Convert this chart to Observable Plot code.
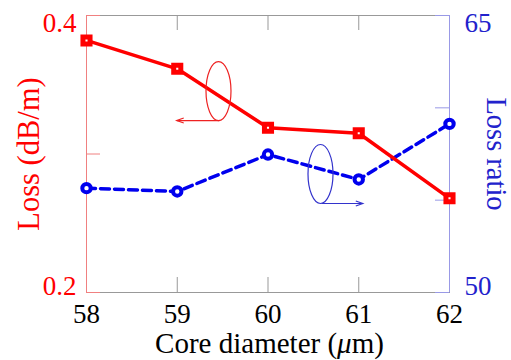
<!DOCTYPE html>
<html><head><meta charset="utf-8">
<script src="https://cdn.jsdelivr.net/npm/d3@7"></script>
<script src="https://cdn.jsdelivr.net/npm/@observablehq/plot@0.6"></script>
<style>body{margin:0;background:#fff} #chart svg{display:block}</style>
</head><body><div id="chart"></div>
<script>
// ---- data ----
const coreDiameter = [58, 59, 60, 61, 62];
const lossDbPerM = [0.382, 0.3615, 0.319, 0.315, 0.268];
const lossRatio = [55.65, 55.47, 57.47, 56.12, 59.13];
const xTicks = [58, 59, 60, 61, 62];
const xTickLabels = ["58", "59", "60", "61", "62"];
const lossTicks = [0.2, 0.3, 0.4];
const lossTickLabels = ["0.2", "", "0.4"];
const ratioTicks = [50, 55, 60, 65];
const ratioTickLabels = ["50", "", "", "65"];
const lossDomain = [0.2, 0.4];
const ratioDomain = [50, 65];
const xTitleParts = ["Core diameter (", "\u03bc", "m)"];
const lossTitle = "Loss (dB/m)";
const ratioTitle = "Loss ratio";
// annotation anchors (data units): ellipse centre and arrow end
const lossMarker = {x: 59.46, y: 0.3451, toX: 59.0};
const ratioMarker = {x: 60.584, y: 56.39, toX: 61.05};

// ---- derived ----
const toLoss = d3.scaleLinear(ratioDomain, lossDomain);
const lossData = coreDiameter.map((x, i) => ({x, y: lossDbPerM[i]}));
const ratioData = coreDiameter.map((x, i) => ({x, y: toLoss(lossRatio[i])}));
const lossLabelData = lossTicks.map((v, i) => ({v, t: lossTickLabels[i]})).filter(d => d.t);
const ratioLabelData = ratioTicks.map((v, i) => ({v: toLoss(v), t: ratioTickLabels[i]})).filter(d => d.t);

const RED = "#ff0000", BLUE = "#0000ee", BLUE_TXT = "#2222cc";
const W = 511, H = 360, ML = 86, MR = 62, MT = 15, MB = 68;
const plotW = W - ML - MR, plotH = H - MT - MB;

function ellipseArrow(a, color, yMap) {
  return (index, scales) => {
    const cx = scales.x(a.x), cy = scales.y(yMap(a.y)), ex = scales.x(a.toX);
    const rx = 12.5, ry = 29.5;
    const g = d3.create("svg:g").attr("fill", "none").attr("stroke", color).attr("stroke-width", 1.2);
    g.append("ellipse").attr("cx", cx).attr("cy", cy).attr("rx", rx).attr("ry", ry);
    const by = cy + ry;
    g.append("line").attr("x1", cx + 1).attr("y1", by).attr("x2", ex).attr("y2", by);
    const dir = Math.sign(ex - cx);
    g.append("path").attr("d", `M${ex - dir * 7},${by - 2.5}L${ex},${by}L${ex - dir * 7},${by + 2.5}`);
    return g.node();
  };
}

function xTitle(index, scales, values, dims) {
  const cx = (dims.marginLeft + dims.width - dims.marginRight) / 2 + 2;
  const y = dims.height - dims.marginBottom + 61;
  const t = d3.create("svg:text").attr("x", cx).attr("y", y).attr("text-anchor", "middle")
    .attr("font-size", 29).attr("fill", "#000").attr("font-family", "Liberation Serif");
  t.append("tspan").text(xTitleParts[0]);
  t.append("tspan").attr("font-style", "italic").text(xTitleParts[1]);
  t.append("tspan").text(xTitleParts[2]);
  return t.node();
}

const isTop = d => d.v > 0.3;
const chart = Plot.plot({
  width: W, height: H,
  marginLeft: ML, marginRight: MR, marginTop: MT, marginBottom: MB,
  x: {domain: [58, 62], axis: null},
  y: {domain: lossDomain, axis: null},
  style: {fontFamily: "Liberation Serif", background: "white", overflow: "visible"},
  marks: [
    Plot.frame({stroke: "#999", strokeWidth: 1}),
    Plot.ruleX([58], {stroke: "#f08080", strokeWidth: 1}),
    Plot.ruleX([62], {stroke: "#9999e6", strokeWidth: 1}),
    // x ticks (inward, bottom and top)
    Plot.ruleX(xTicks.slice(1, -1), {stroke: "#999", insetTop: plotH - 15}),
    Plot.ruleX(xTicks.slice(1, -1), {stroke: "#999", insetBottom: plotH - 15}),
    // left ticks (red)
    Plot.ruleY(lossTicks, {stroke: "#f08080", insetRight: plotW - 14}),
    // right ticks (blue)
    Plot.ruleY(ratioTicks.map(toLoss), {stroke: "#9999e6", insetLeft: plotW - 14}),
    // series
    Plot.line(ratioData, {x: "x", y: "y", stroke: BLUE, strokeWidth: 3.5, strokeDasharray: "9,5"}),
    Plot.line(lossData, {x: "x", y: "y", stroke: RED, strokeWidth: 3.5}),
    Plot.dot(ratioData, {x: "x", y: "y", r: 4.2, stroke: BLUE, strokeWidth: 4, fill: "white"}),
    Plot.dot(lossData, {x: "x", y: "y", symbol: "square", r: 4, stroke: RED, strokeWidth: 5, fill: "white"}),
    // annotations
    ellipseArrow(lossMarker, "#ee2222", v => v),
    ellipseArrow(ratioMarker, "#3333cc", toLoss),
    // x tick labels
    Plot.text(xTicks, {x: d => d, text: (d, i) => xTickLabels[i], frameAnchor: "bottom", lineAnchor: "middle", dy: 22, fontSize: 27, fill: "#000"}),
    // left tick labels
    Plot.text(lossLabelData.filter(isTop), {y: "v", text: "t", frameAnchor: "left", textAnchor: "end", dx: -10, dy: 8, fontSize: 27, fill: RED}),
    Plot.text(lossLabelData.filter(d => !isTop(d)), {y: "v", text: "t", frameAnchor: "left", textAnchor: "end", dx: -10, dy: -6, fontSize: 27, fill: RED}),
    // right tick labels
    Plot.text(ratioLabelData.filter(isTop), {y: "v", text: "t", frameAnchor: "right", textAnchor: "start", dx: 15, dy: 8, fontSize: 27, fill: BLUE_TXT}),
    Plot.text(ratioLabelData.filter(d => !isTop(d)), {y: "v", text: "t", frameAnchor: "right", textAnchor: "start", dx: 15, dy: -6, fontSize: 27, fill: BLUE_TXT}),
    // axis titles
    Plot.text([lossTitle], {text: d => d, frameAnchor: "left", textAnchor: "middle", lineAnchor: "middle", dx: -57, rotate: -90, fontSize: 30.5, fill: RED}),
    Plot.text([ratioTitle], {text: d => d, frameAnchor: "right", textAnchor: "middle", lineAnchor: "middle", dx: 47, rotate: 90, fontSize: 28.5, fill: BLUE_TXT}),
    xTitle
  ]
});
document.getElementById("chart").append(chart);
</script>
</body></html>
